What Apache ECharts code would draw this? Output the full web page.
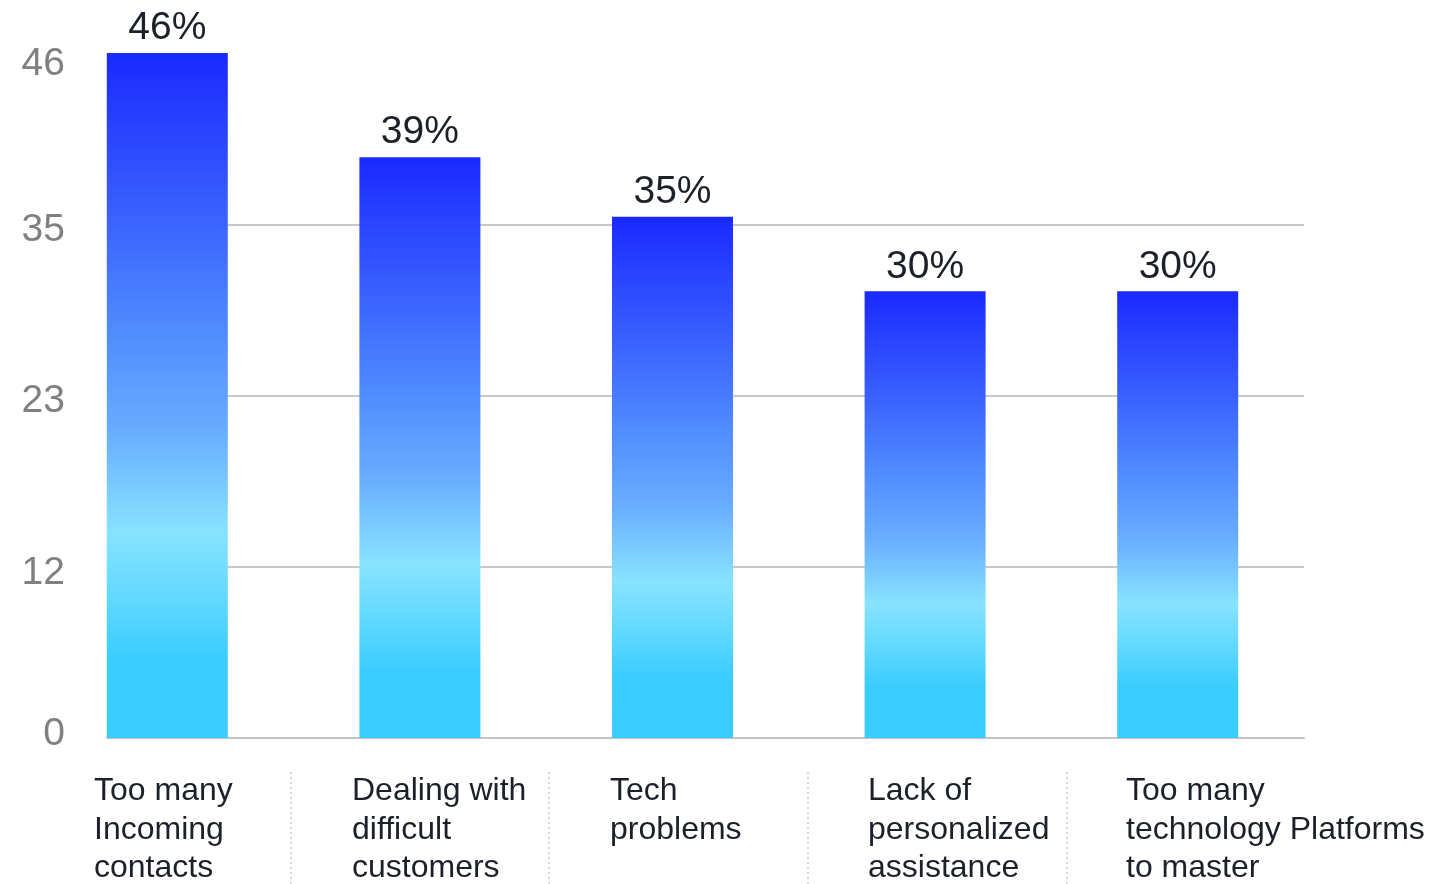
<!DOCTYPE html>
<html>
<head>
<meta charset="utf-8">
<title>Agent challenges</title>
<script src="https://cdn.jsdelivr.net/npm/echarts@6/dist/echarts.min.js"></script>
<style>
  html, body { margin: 0; padding: 0; background: #ffffff; }
  #chart { width: 1455px; height: 884px; }
</style>
</head>
<body>
<div id="chart"></div>
<script>
// Survey results: share of respondents naming each challenge
const categories = [
  'Too many\nIncoming\ncontacts',
  'Dealing with\ndifficult\ncustomers',
  'Tech\nproblems',
  'Lack of\npersonalized\nassistance',
  'Too many\ntechnology Platforms\nto master'
];
const values = [46, 39, 35, 30, 30];
const valueLabels = ['46%', '39%', '35%', '30%', '30%'];
const axisMax = 46;
const tickStep = 11.5;   // ticks 0, 11.5, 23, 34.5, 46 shown rounded

const FONT = '"Liberation Sans", Arial, Helvetica, sans-serif';

// vertical gradient, relative to each bar: deep blue at top, pale cyan band, bright cyan at the base
const barGradient = new echarts.graphic.LinearGradient(0, 0, 0, 1, [
  { offset: 0.00, color: '#1a29ff' },
  { offset: 0.20, color: '#3558ff' },
  { offset: 0.40, color: '#4f8aff' },
  { offset: 0.55, color: '#68acff' },
  { offset: 0.70, color: '#88e3ff' },
  { offset: 0.80, color: '#5fd8ff' },
  { offset: 0.88, color: '#3ccdff' },
  { offset: 1.00, color: '#3acdff' }
]);

// tick captions sit a little below their gridlines, the zero caption a little above
function tickStyleKey(v) {
  if (v === 0) return 'zero';
  if (v === axisMax) return 'top';
  return 'mid';
}

const chart = echarts.init(document.getElementById('chart'), null, { renderer: 'canvas' });

chart.setOption({
  animation: false,
  backgroundColor: '#ffffff',
  grid: [
    // bars
    { left: 41, right: 151, top: 53, bottom: 146, containLabel: false },
    // value axis, gridlines and baseline
    { left: 107, right: 151, top: 53, bottom: 146, containLabel: false },
    // category captions
    { left: 94, right: 329, top: 766, height: 1, containLabel: false },
    // dotted separators between captions
    { left: 32, right: 130, top: 772, bottom: 0, containLabel: false }
  ],
  xAxis: [
    {
      gridIndex: 0, type: 'category', data: categories,
      axisLine: { show: false }, axisTick: { show: false },
      axisLabel: { show: false }, splitLine: { show: false }
    },
    {
      gridIndex: 1, type: 'category', data: categories,
      axisLine: { show: true, lineStyle: { color: '#c4c4c4', width: 2 } },
      axisTick: { show: false }, axisLabel: { show: false }, splitLine: { show: false }
    },
    {
      gridIndex: 2, type: 'category', data: categories, boundaryGap: false,
      axisLine: { show: false }, axisTick: { show: false }, splitLine: { show: false },
      axisLabel: {
        show: true, interval: 0, margin: 6, align: 'left', verticalAlign: 'top',
        color: '#1b2029', fontFamily: FONT, fontSize: 32, lineHeight: 38.5
      }
    },
    {
      gridIndex: 3, type: 'category', data: categories,
      axisLine: { show: false }, axisTick: { show: false }, axisLabel: { show: false },
      splitLine: {
        show: true, interval: 0, showMinLine: false, showMaxLine: false,
        lineStyle: { color: '#c8c8c8', width: 1.5, type: [2, 3] }
      }
    }
  ],
  yAxis: [
    {
      gridIndex: 0, type: 'value', min: 0, max: axisMax, show: false
    },
    {
      gridIndex: 1, type: 'value', min: 0, max: axisMax, interval: tickStep,
      axisLine: { show: false }, axisTick: { show: false },
      axisLabel: {
        show: true, margin: 42, color: '#808080', fontFamily: FONT, fontSize: 39,
        formatter: v => '{' + tickStyleKey(v) + '|' + Math.round(v) + '}',
        rich: {
          top:  { color: '#808080', fontFamily: FONT, fontSize: 39, padding: [22, 0, 0, 0] },
          mid:  { color: '#808080', fontFamily: FONT, fontSize: 39, padding: [12, 0, 0, 0] },
          zero: { color: '#808080', fontFamily: FONT, fontSize: 39, padding: [0, 0, 8, 0] }
        }
      },
      splitLine: {
        show: true, showMinLine: false, showMaxLine: false,
        lineStyle: { color: '#c8c8c8', width: 2 }
      }
    },
    { gridIndex: 2, type: 'value', show: false },
    { gridIndex: 3, type: 'value', show: false }
  ],
  series: [
    {
      type: 'bar',
      xAxisIndex: 0, yAxisIndex: 0,
      data: values,
      barWidth: 121,
      z: 3,
      itemStyle: { color: barGradient },
      label: {
        show: true, position: 'top', distance: 5,
        color: '#1b2029', fontFamily: FONT, fontSize: 39,
        formatter: p => valueLabels[p.dataIndex]
      }
    }
  ]
});
</script>
</body>
</html>
